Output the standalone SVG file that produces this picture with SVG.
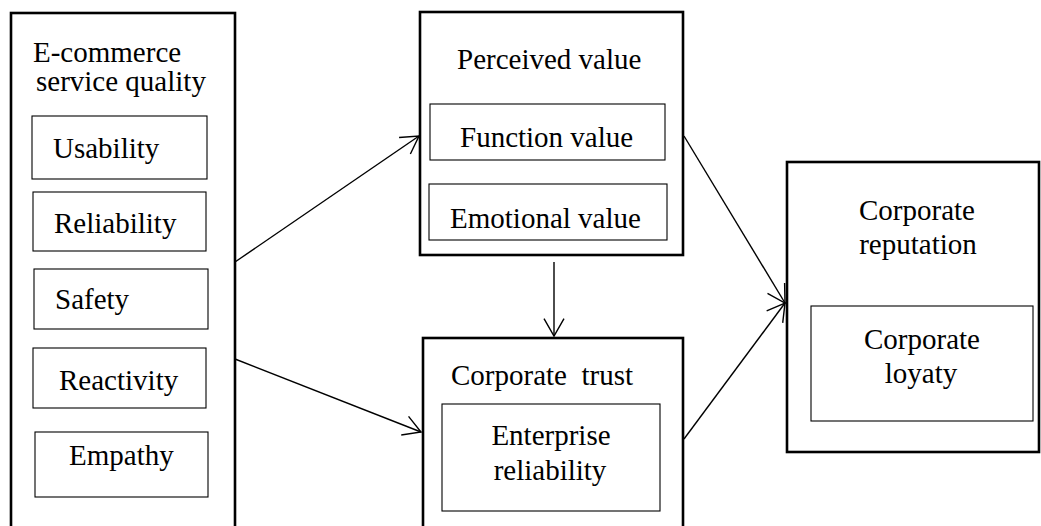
<svg xmlns="http://www.w3.org/2000/svg" width="1041" height="526" viewBox="0 0 1041 526">
<style>
.outer{fill:#fff;stroke:#000;stroke-width:2.6}
.inner{fill:#fff;stroke:#000;stroke-width:1.1}
.t{font-family:"Liberation Serif","Times New Roman",serif;font-size:29px;fill:#000}
.m{text-anchor:middle}
.conn{fill:none;stroke:#000;stroke-width:1.4}
</style>
<defs>
<marker id="arr" viewBox="-20 -12 22 24" markerWidth="22" markerHeight="24" refX="0" refY="0" orient="auto" markerUnits="userSpaceOnUse">
<path d="M-17.3,-10 L0,0 L-17.3,10" fill="none" stroke="#000" stroke-width="1.4"/>
</marker>
</defs>
<rect width="1041" height="526" fill="#fff"/>
<g id="service-quality">
<rect class="outer" x="11" y="13" width="224" height="540"/>
<text class="t" x="33" y="62">E-commerce</text>
<text class="t" x="36" y="91">service quality</text>
<g id="usability"><rect class="inner" x="32" y="116" width="175" height="63"/><text class="t" x="53" y="158">Usability</text></g>
<g id="reliability"><rect class="inner" x="33" y="192" width="173" height="59"/><text class="t" x="54" y="233">Reliability</text></g>
<g id="safety"><rect class="inner" x="34" y="269" width="174" height="60"/><text class="t" x="55" y="309">Safety</text></g>
<g id="reactivity"><rect class="inner" x="33" y="348" width="173" height="60"/><text class="t" x="59" y="390">Reactivity</text></g>
<g id="empathy"><rect class="inner" x="35" y="432" width="173" height="65"/><text class="t" x="69" y="465">Empathy</text></g>
</g>
<g id="perceived-value">
<rect class="outer" x="420" y="12" width="263" height="243"/>
<text class="t" x="457" y="69">Perceived value</text>
<g id="function-value"><rect class="inner" x="430" y="104" width="235" height="56"/><text class="t" x="460" y="147">Function value</text></g>
<g id="emotional-value"><rect class="inner" x="429" y="184" width="238" height="56"/><text class="t" x="450" y="228">Emotional value</text></g>
</g>
<g id="corporate-trust">
<rect class="outer" x="423" y="338" width="260" height="220"/>
<text class="t" x="451" y="385" xml:space="preserve">Corporate  trust</text>
<g id="enterprise-reliability"><rect class="inner" x="442" y="404" width="218" height="107"/>
<text class="t m" x="551" y="445">Enterprise</text>
<text class="t m" x="550" y="480">reliability</text></g>
</g>
<g id="corporate-reputation">
<rect class="outer" x="787" y="162" width="252" height="290"/>
<text class="t m" x="917" y="220">Corporate</text>
<text class="t m" x="918" y="254">reputation</text>
<g id="corporate-loyaty"><rect class="inner" x="811" y="306" width="222" height="115"/>
<text class="t m" x="922" y="349">Corporate</text>
<text class="t m" x="921" y="383">loyaty</text></g>
</g>
<g id="connectors">
<line class="conn" x1="235" y1="262" x2="419" y2="136" marker-end="url(#arr)"/>
<line class="conn" x1="235" y1="359" x2="421" y2="432" marker-end="url(#arr)"/>
<line class="conn" x1="554" y1="262" x2="554" y2="336" marker-end="url(#arr)"/>
<line class="conn" x1="684" y1="136" x2="785" y2="303" marker-end="url(#arr)"/>
<line class="conn" x1="684" y1="439" x2="785" y2="303" marker-end="url(#arr)"/>
</g>
</svg>
